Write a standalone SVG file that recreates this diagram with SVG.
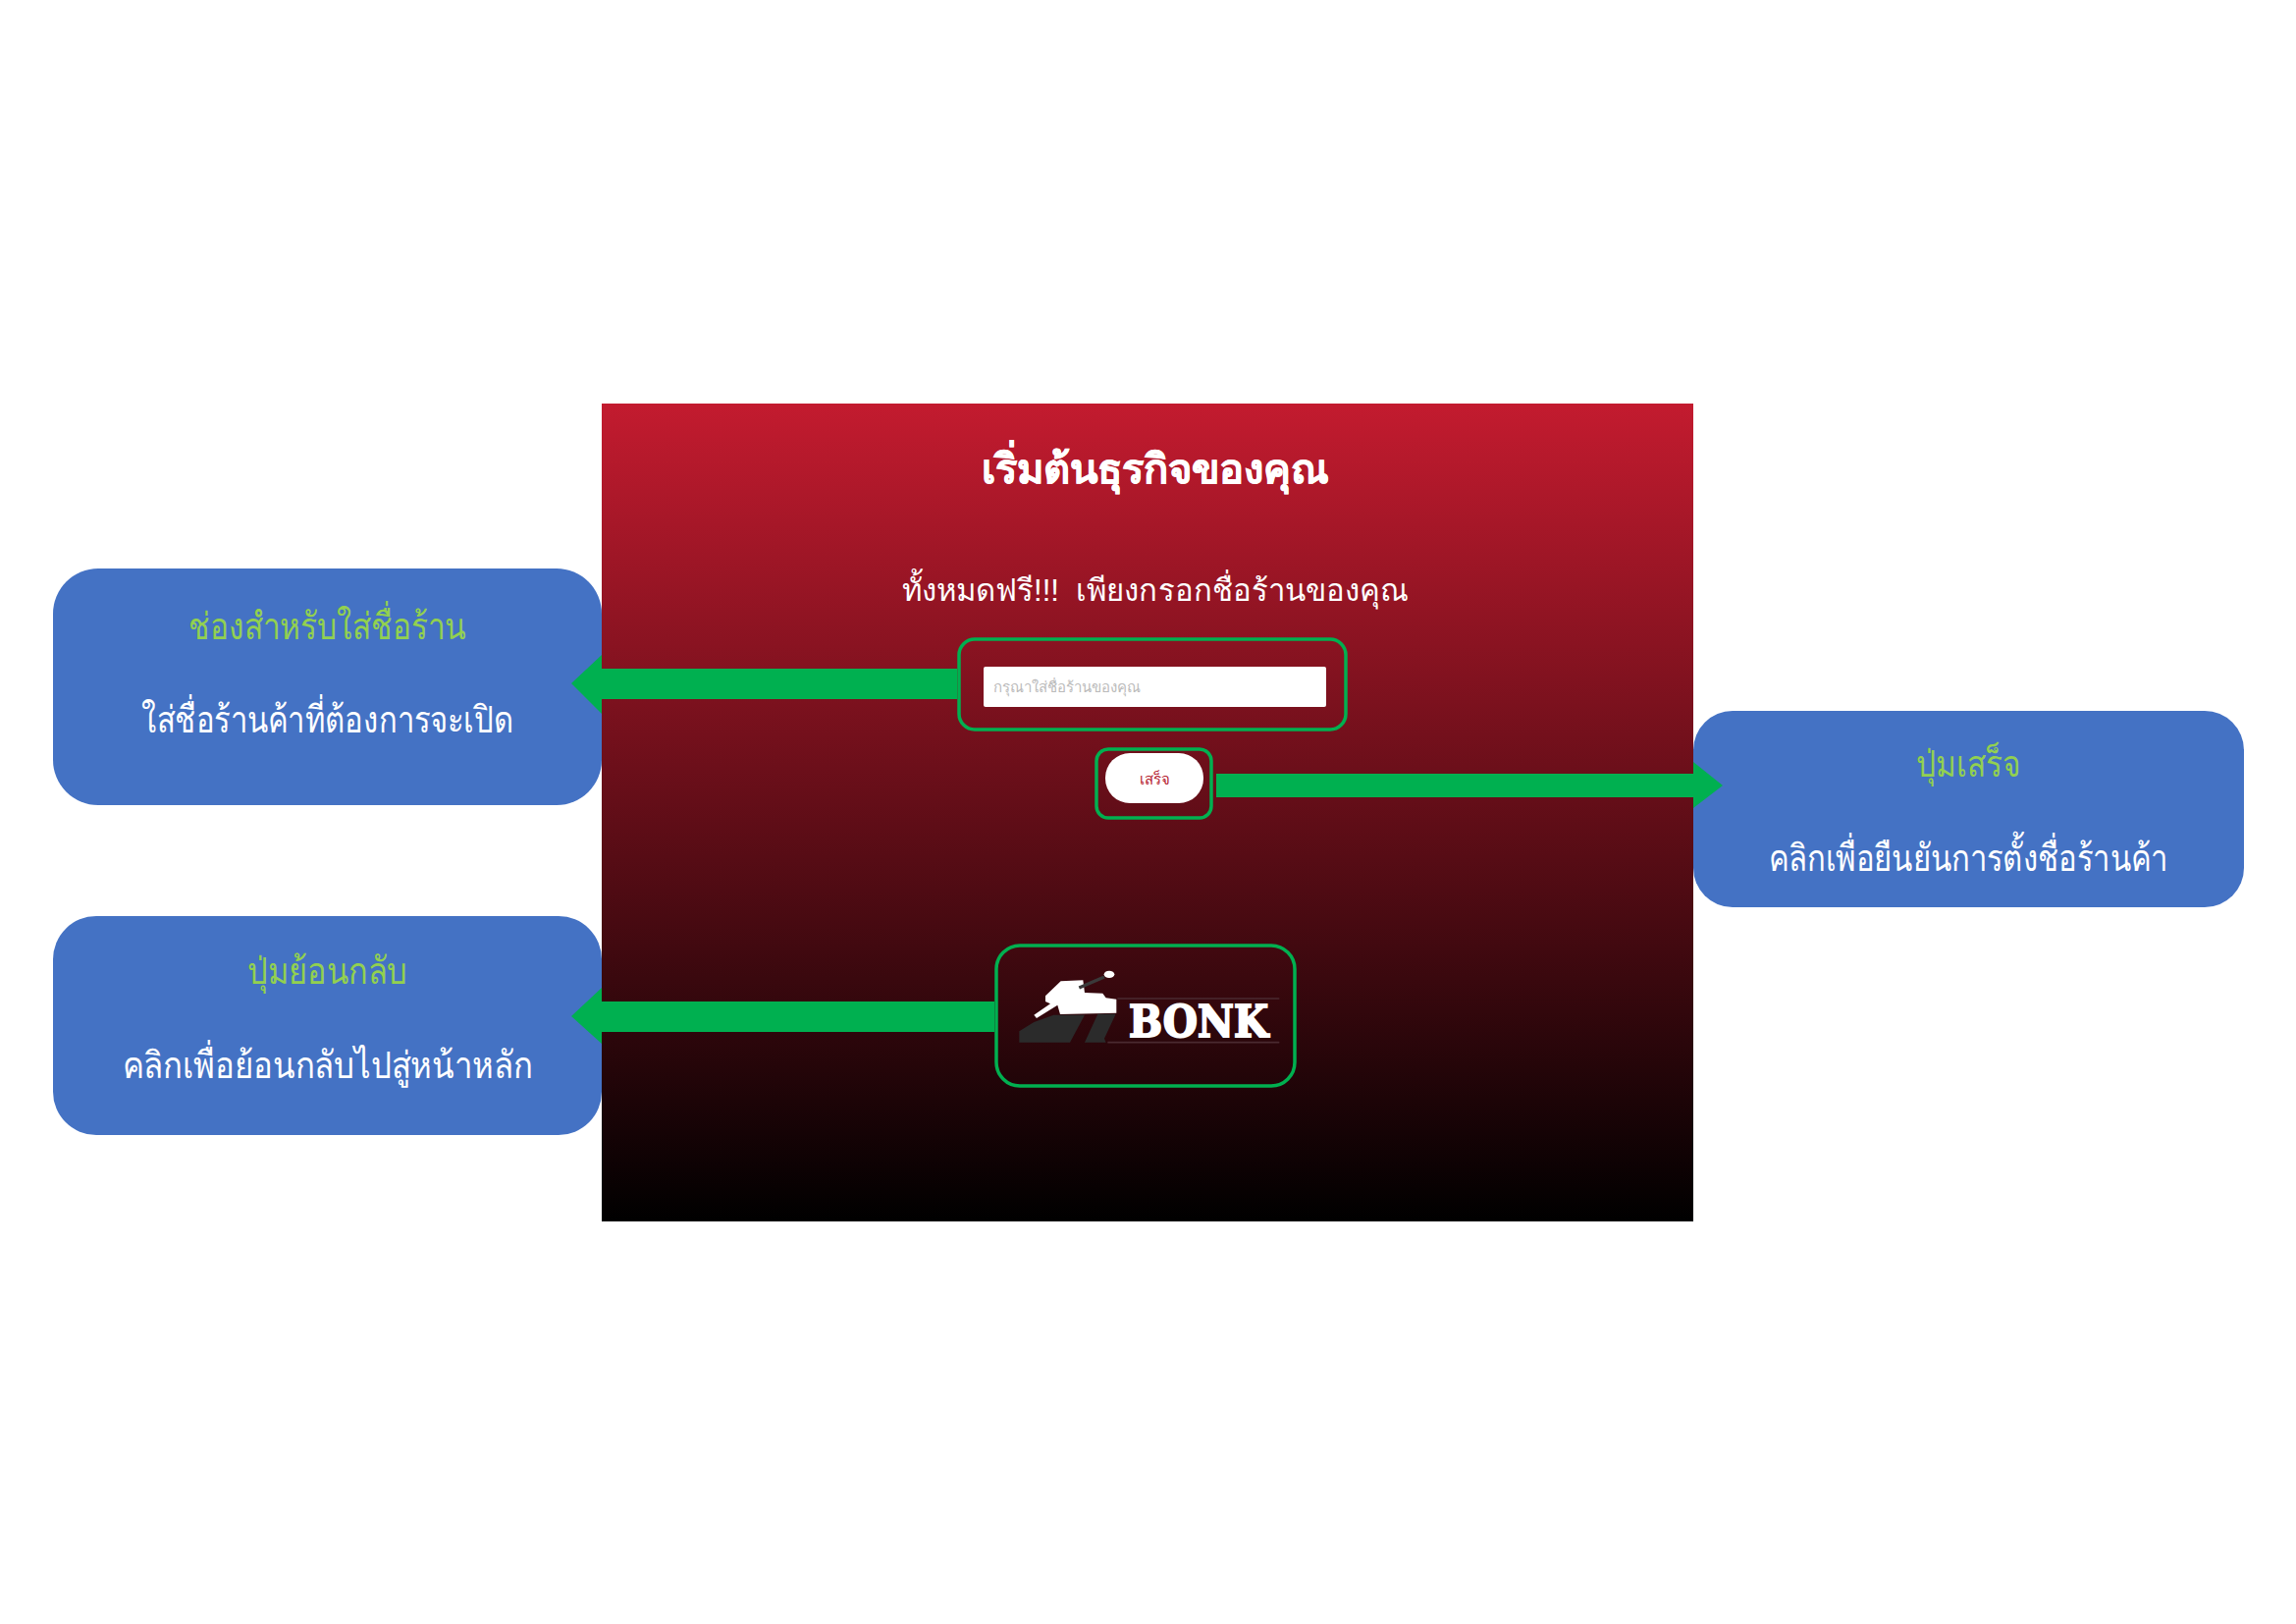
<svg xmlns="http://www.w3.org/2000/svg" width="2339" height="1654" viewBox="0 0 2339 1654">
<style>
.box{fill:#4472c4}
.hl{fill:#92d050;font-family:"Liberation Serif","Noto Sans",serif;font-size:38px;text-anchor:middle;font-weight:300}
.bd{fill:#fff;font-family:"Liberation Serif","Noto Sans",serif;font-size:38px;text-anchor:middle;font-weight:300}
.ui{font-family:"Liberation Sans","Noto Sans",sans-serif;text-anchor:middle;white-space:pre}
.hi{fill:none;stroke:#00b050;stroke-width:3.5}
.arrow{fill:#00b050}
</style>
<defs><linearGradient id="g" x1="0" y1="0" x2="0" y2="1"><stop offset="0" stop-color="#c31b2f"/><stop offset="1" stop-color="#000"/></linearGradient></defs>
<rect width="2339" height="1654" fill="#fff"/>
<g id="panel">
<rect x="613" y="411" width="1112" height="833" fill="url(#g)"/>
<text class="ui" x="1177" y="492" font-size="41.7" font-weight="bold" fill="#fff" stroke="#fff" stroke-width=".5">เริ่มต้นธุรกิจของคุณ</text>
<text class="ui" x="1177" y="612" font-size="31" fill="#fff" textLength="517" lengthAdjust="spacingAndGlyphs">ทั้งหมดฟรี!!!  เพียงกรอกชื่อร้านของคุณ</text>
</g>
<g id="input-field">
<rect x="1002" y="679" width="349" height="41" rx="2" fill="#fff"/>
<text class="ui" x="1012" y="705" font-size="15" fill="#bbb" style="text-anchor:start">กรุณาใส่ชื่อร้านของคุณ</text>
<rect class="hi" x="977" y="651" width="394" height="92" rx="16"/>
</g>
<g id="done-button">
<rect x="1126" y="767" width="100" height="51" rx="25" fill="#fff"/>
<text class="ui" x="1176" y="799" font-size="15" fill="#b5202f">เสร็จ</text>
<rect class="hi" x="1117" y="763" width="117" height="70" rx="12"/>
</g>
<g id="bonk-logo">
<rect class="hi" x="1015" y="963" width="304" height="143" rx="24"/>
<g transform="translate(990 951) scale(.3333)">
<path d="M145 332V298L190 270L250 248H345L300 332Z" fill="#2b2b2b"/>
<path d="M345 332L385 245H440L405 320L410 332Z" fill="#2b2b2b"/>
<path d="M225 190L272 145L340 142L345 180L400 182L410 196L442 200V242L270 246L262 218L198 258L190 248L240 214L225 207Z" fill="#fff"/>
<path d="M328 165L405 132" stroke="#3a3a3a" stroke-width="10"/>
<ellipse cx="420" cy="124" rx="16" ry="11" fill="#fff"/>
<path d="M445 198H940M415 332H940" stroke="#4a2a30" stroke-width="5" fill="none"/>
</g>
<text x="1150" y="1056" font-family="DejaVu Serif" font-weight="bold" font-size="44" fill="#fff" stroke="#fff" stroke-width="2" textLength="142" lengthAdjust="spacingAndGlyphs">BONK</text>
</g>
<g id="box-name"><rect class="box" x="54" y="579" width="559" height="241" rx="46"/>
<text class="hl" x="333.500" y="651" textLength="283" lengthAdjust="spacingAndGlyphs">ช่องสำหรับใส่ชื่อร้าน</text>
<text class="bd" x="333.500" y="746" textLength="379" lengthAdjust="spacingAndGlyphs">ใส่ชื่อร้านค้าที่ต้องการจะเปิด</text></g>
<g id="box-back"><rect class="box" x="54" y="933" width="559" height="223" rx="44"/>
<text class="hl" x="333.500" y="1002" textLength="163" lengthAdjust="spacingAndGlyphs">ปุ่มย้อนกลับ</text>
<text class="bd" x="333.500" y="1098" textLength="418" lengthAdjust="spacingAndGlyphs">คลิกเพื่อย้อนกลับไปสู่หน้าหลัก</text></g>
<g id="box-done"><rect class="box" x="1725" y="724" width="561" height="200" rx="40"/>
<text class="hl" x="2005" y="791" textLength="106" lengthAdjust="spacingAndGlyphs">ปุ่มเสร็จ</text>
<text class="bd" x="2005" y="887" textLength="407" lengthAdjust="spacingAndGlyphs">คลิกเพื่อยืนยันการตั้งชื่อร้านค้า</text></g>
<g id="connectors">
<path class="arrow" d="M975 681H613V667L582 696L613 727V712H975Z"/>
<path class="arrow" d="M1239 788H1725V776L1755 800L1725 823V812H1239Z"/>
<path class="arrow" d="M1013 1020H613V1006L582 1035L613 1063V1051H1013Z"/>
</g>
</svg>
